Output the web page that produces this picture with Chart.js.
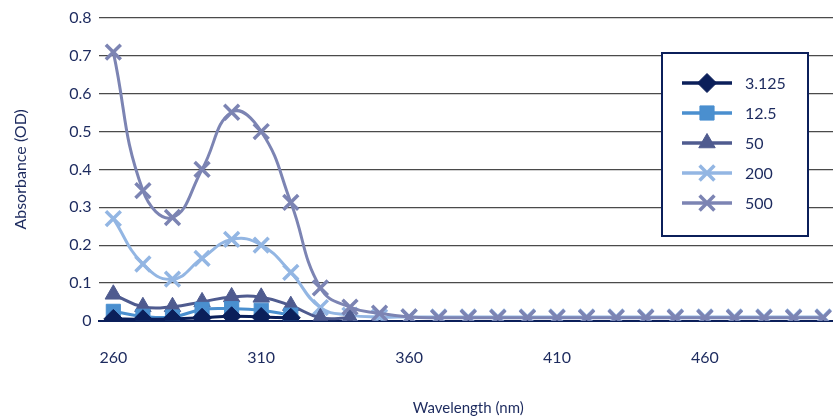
<!DOCTYPE html>
<html>
<head>
<meta charset="utf-8">
<script src="https://cdn.jsdelivr.net/npm/chart.js@4.4.1/dist/chart.umd.min.js"></script>
<style>
  html, body { margin: 0; padding: 0; background: #fff; overflow: hidden; }
  #wrap { width: 852px; height: 417px; }
</style>
</head>
<body>
<div id="wrap"><canvas id="chart"></canvas></div>
<script>
// --- data ---
const wavelengths = [260, 270, 280, 290, 300, 310, 320, 330, 340, 350, 360, 370, 380,
                     390, 400, 410, 420, 430, 440, 450, 460, 470, 480, 490, 500];
const seriesNames = ['3.125', '12.5', '50', '200', '500'];
const abs3125 = [0.005, 0.004, 0.005, 0.008, 0.012, 0.010, 0.008];
const abs12_5 = [0.025, 0.012, 0.010, 0.030, 0.032, 0.028, 0.015];
const abs50   = [0.070, 0.037, 0.037, 0.050, 0.063, 0.062, 0.040, 0.008, 0.008];
const abs200  = [0.270, 0.150, 0.110, 0.165, 0.215, 0.200, 0.128, 0.035, 0.015, 0.010,
                 0.010, 0.010, 0.010, 0.010, 0.010, 0.010, 0.010, 0.010, 0.010, 0.010,
                 0.010, 0.010, 0.010, 0.010, 0.010];
const abs500  = [0.710, 0.344, 0.273, 0.400, 0.551, 0.500, 0.313, 0.087, 0.036, 0.020,
                 0.010, 0.008, 0.008, 0.008, 0.008, 0.008, 0.008, 0.008, 0.008, 0.008,
                 0.008, 0.008, 0.008, 0.008, 0.008];
const LABEL_STEP = 5;

const TEXT = '#1c2a5e';
const FONT = "Lato, 'Open Sans', sans-serif";

function series(label, data, color, style, radius, bw, order) {
    return {
        label, data, order,
        borderColor: color,
        backgroundColor: color,
        borderWidth: 3,
        tension: 0.45,
        pointStyle: style,
        pointRadius: radius,
        pointBorderWidth: bw,
        pointBackgroundColor: color,
        pointBorderColor: color
    };
}

// legend drawn inside the plot, like the original
const boxLegend = {
    id: 'boxLegend',
    afterDraw(chart) {
        const ctx = chart.ctx;
        ctx.save();
        ctx.fillStyle = '#fff';
        ctx.fillRect(662, 53, 146, 183);
        ctx.strokeStyle = '#0b1f5a';
        ctx.lineWidth = 2;
        ctx.strokeRect(662, 53, 146, 183);
        chart.data.datasets.forEach((ds, i) => {
            const y = 83 + i * 30;
            ctx.strokeStyle = ds.borderColor;
            ctx.lineWidth = 3.5;
            ctx.beginPath();
            ctx.moveTo(682, y);
            ctx.lineTo(732, y);
            ctx.stroke();
            ctx.fillStyle = ds.pointBackgroundColor;
            ctx.lineWidth = ds.pointBorderWidth;
            Chart.helpers.drawPoint(ctx, {
                pointStyle: ds.pointStyle, radius: ds.pointRadius,
                borderWidth: ds.pointBorderWidth, rotation: 0
            }, 707, y);
            ctx.fillStyle = TEXT;
            ctx.font = '16px ' + FONT;
            ctx.textBaseline = 'middle';
            ctx.fillText(ds.label, 745, y + 1);
        });
        ctx.restore();
    }
};

new Chart(document.getElementById('chart'), {
    type: 'line',
    data: {
        labels: wavelengths,
        datasets: [
            series(seriesNames[0], abs3125, '#0b1f5a', 'rectRot', 9.5, 1, 2),
            series(seriesNames[1], abs12_5, '#4a8fcf', 'rect', 10, 1, 3),
            series(seriesNames[2], abs50, '#4f5b8f', 'triangle', 9.5, 1, 4),
            series(seriesNames[3], abs200, '#93b6e3', 'crossRot', 10.5, 3.5, 5),
            series(seriesNames[4], abs500, '#7c84b3', 'crossRot', 10.5, 3.5, 1)
        ]
    },
    options: {
        responsive: true,
        maintainAspectRatio: false,
        animation: false,
        layout: { padding: { left: 9, top: 18, right: 0, bottom: 0 } },
        plugins: { legend: { display: false }, tooltip: { enabled: false } },
        scales: {
            x: {
                type: 'category',
                offset: true,
                grid: { display: false, drawTicks: false },
                border: { display: true, color: '#0b1f5a', width: 2 },
                ticks: {
                    autoSkip: false, maxRotation: 0, padding: 27,
                    color: TEXT, font: { family: FONT, size: 16 },
                    callback(val, i) { return i % LABEL_STEP === 0 ? this.getLabelForValue(val) : ''; }
                },
                title: {
                    display: true, text: 'Wavelength (nm)', color: TEXT,
                    font: { family: FONT, size: 15 }, padding: { top: 5, bottom: 0 }
                }
            },
            y: {
                min: 0, max: 0.8,
                grid: { color: '#4a4a4a', lineWidth: 1.2, drawTicks: false },
                border: { display: false },
                ticks: {
                    stepSize: 0.1, padding: 7,
                    color: TEXT, font: { family: FONT, size: 16 }
                },
                title: {
                    display: true, text: 'Absorbance (OD)', color: TEXT,
                    font: { family: FONT, size: 16 }, padding: { top: 2, bottom: 32 }
                }
            }
        }
    },
    plugins: [boxLegend]
});
</script>
</body>
</html>
